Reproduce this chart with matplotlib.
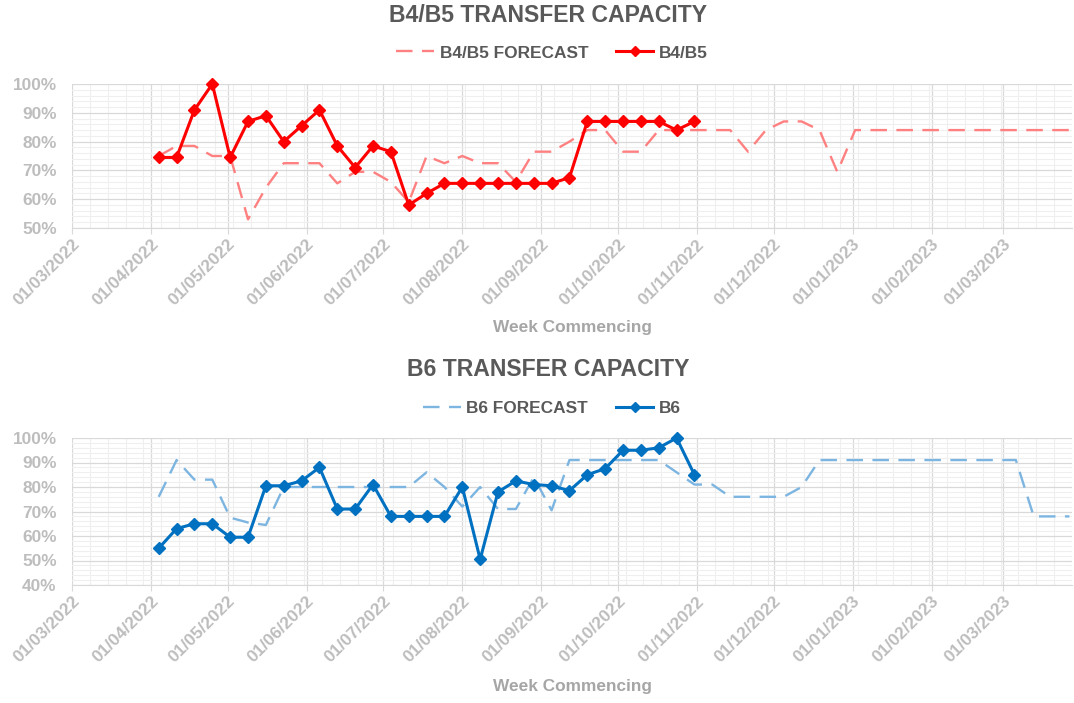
import matplotlib
matplotlib.use("Agg")
import matplotlib.pyplot as plt
import matplotlib.dates as mdates
import matplotlib.transforms as mtransforms
from matplotlib.lines import Line2D
from matplotlib.ticker import PercentFormatter, MultipleLocator, FixedLocator
import pandas as pd

# Week commencing dates (Mondays)
WEEKS = pd.date_range("2022-04-04", periods=52, freq="7D")

B45_ACTUAL = [74.5, 74.5, 91, 100, 74.5, 87, 89, 80, 85.5, 91, 78.5, 71, 78.5,
              76.5, 58, 62, 65.5, 65.5, 65.5, 65.5, 65.5, 65.5, 65.5, 67.5,
              87, 87, 87, 87, 87, 84, 87]
B45_FORECAST = [75, 78.5, 78.5, 75, 75, 53, 64, 72.5, 72.5, 72.5, 65.5, 69.5,
                69.5, 66, 59, 75, 72.5, 75, 72.5, 72.5, 66, 76.5, 76.5, 80,
                84, 84, 76.5, 76.5, 84, 84, 84, 84, 84, 76.5, 84, 87, 87, 84,
                69.5, 84, 84, 84, 84, 84, 84, 84, 84, 84, 84, 84, 84, 84]

B6_ACTUAL = [55, 63, 65, 65, 59.5, 59.5, 80.5, 80.5, 82.5, 88, 71, 71, 81,
             68, 68, 68, 68, 80, 50.5, 78, 82.5, 81, 80.5, 78.5, 85, 87.5,
             95, 95, 96, 100, 85]
B6_FORECAST = [76, 91, 83, 83, 67.5, 65.5, 64.5, 80, 80, 80, 80, 80, 80, 80,
               80, 86, 80, 72, 80, 71, 71, 84, 70.5, 91, 91, 91, 91, 91, 91,
               86, 81, 81, 76, 76, 76, 76, 80, 91, 91, 91, 91, 91, 91, 91, 91,
               91, 91, 91, 91, 68, 68, 68]

X_START = pd.Timestamp("2022-03-01")
X_END = pd.Timestamp("2023-03-28")

TITLE_COLOR = "#595959"
TICK_COLOR = "#BDBDBD"
LABEL_COLOR = "#A6A6A6"
GRID_MAJOR = "#D9D9D9"
GRID_MINOR = "#EFEFEF"

plt.rcParams["font.family"] = ["Liberation Sans", "DejaVu Sans"]
plt.rcParams["font.weight"] = "bold"

W, H = 1074, 703


def draw_panel(fig, ax, actual, forecast, color, fc_color, ymin):
    fc_line, = ax.plot(WEEKS[:len(forecast)], forecast, color=fc_color,
                       lw=1.7, zorder=3)
    fc_line.set_dashes([7, 4])
    ax.plot(WEEKS[:len(actual)], actual, color=color, lw=2.2,
            marker="D", markersize=6.5, zorder=4, clip_on=False)

    ax.set_xlim(X_START, X_END)
    ax.set_ylim(ymin, 100)
    ax.yaxis.set_major_locator(MultipleLocator(10))
    ax.yaxis.set_minor_locator(MultipleLocator(2))
    ax.yaxis.set_major_formatter(PercentFormatter(decimals=0))
    ax.xaxis.set_major_locator(mdates.MonthLocator(bymonthday=1))
    ax.xaxis.set_major_formatter(mdates.DateFormatter("%d/%m/%Y"))
    minor = pd.date_range(X_START, X_END, freq="7D")
    ax.xaxis.set_minor_locator(FixedLocator(mdates.date2num(minor)))

    ax.grid(which="major", color=GRID_MAJOR, lw=0.9, zorder=1)
    ax.grid(which="minor", color=GRID_MINOR, lw=0.8, zorder=0)
    ax.set_axisbelow(True)
    for s in ("top", "right", "left"):
        ax.spines[s].set_visible(False)
    ax.spines["bottom"].set_color(GRID_MAJOR)

    ax.tick_params(axis="y", length=0, pad=11, labelsize=12.4,
                   labelcolor=TICK_COLOR)
    ax.tick_params(axis="y", which="minor", length=0)
    ax.tick_params(axis="x", which="major", length=4, color=GRID_MAJOR,
                   pad=6, labelsize=12.4, labelcolor=TICK_COLOR)
    ax.tick_params(axis="x", which="minor", length=0)
    shift = mtransforms.ScaledTranslation(5 / 100, 0, fig.dpi_scale_trans)
    for lab in ax.get_xticklabels():
        lab.set_rotation(45)
        lab.set_ha("right")
        lab.set_va("center")
        lab.set_rotation_mode("anchor")
        lab.set_transform(lab.get_transform() + shift)


fig = plt.figure(figsize=(W / 100, H / 100), dpi=100)
ax1 = fig.add_axes([72 / W, (H - 228) / H, 1000 / W, 144 / H])
ax2 = fig.add_axes([72 / W, (H - 585) / H, 1000 / W, 147 / H])

draw_panel(fig, ax1, B45_ACTUAL, B45_FORECAST, "#FF0000", "#FF8080", 50)
draw_panel(fig, ax2, B6_ACTUAL, B6_FORECAST, "#0070C0", "#7DB5E1", 40)

panels = [
    ("B4/B5", "#FF0000", "#FF8080", 15, 53, 328),
    ("B6", "#0070C0", "#7DB5E1", 370, 408, 686),
]
for name, color, fc_color, ty, ly, xy in panels:
    fig.text(548 / W, 1 - ty / H, f"{name} TRANSFER CAPACITY", ha="center",
             va="center", fontsize=16.6, color=TITLE_COLOR, fontweight="bold")
    fc = Line2D([], [], color=fc_color, lw=1.7, dashes=[7, 4])
    act = Line2D([], [], color=color, lw=2.2, marker="D", markersize=5)
    fig.legend([fc, act], [f"{name} FORECAST", name], loc="center",
               bbox_to_anchor=(552 / W, 1 - ly / H), ncol=2, frameon=False,
               fontsize=12.4, labelcolor=TITLE_COLOR, handlelength=2.2,
               handletextpad=0.3, columnspacing=1.6)
    fig.text(572 / W, 1 - xy / H, "Week Commencing", ha="center", va="center",
             fontsize=12.4, color=LABEL_COLOR, fontweight="bold")

fig.savefig("out.png", dpi=100)
